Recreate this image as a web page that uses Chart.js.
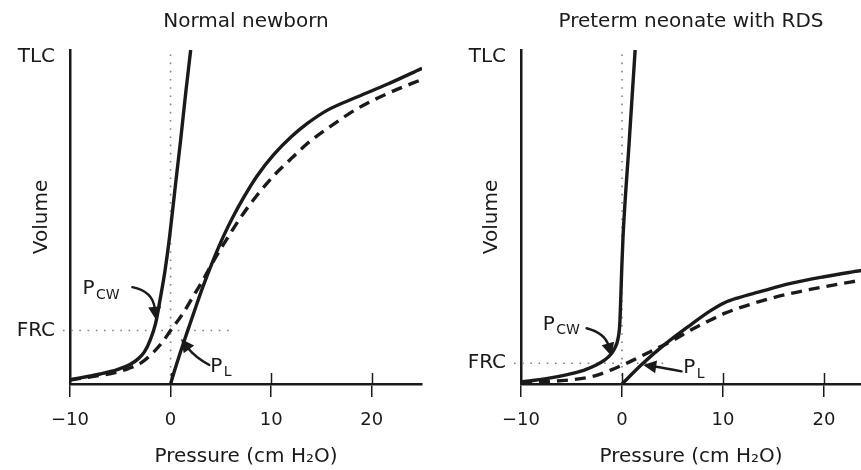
<!DOCTYPE html>
<html>
<head>
<meta charset="utf-8">
<script src="https://cdn.jsdelivr.net/npm/chart.js@4.4.1/dist/chart.umd.min.js"></script>
<style>
  html, body { margin: 0; padding: 0; background: #ffffff; }
  #wrap { position: relative; width: 861px; height: 470px; overflow: hidden; }
  #c1 { position: absolute; left: 0; top: 0; }
  #c2 { position: absolute; left: 430px; top: 0; }
</style>
</head>
<body>
<div id="wrap">
  <canvas id="c1" width="430" height="470"></canvas>
  <canvas id="c2" width="431" height="470"></canvas>
</div>
<script>
// ---------------- DATA ----------------
const panelTitles = ['Normal newborn', 'Preterm neonate with RDS'];
const pressureTicks = [-10, 0, 10, 20];
const volumeTickLabels = ['FRC', 'TLC'];
const xAxisTitle = 'Pressure (cm H\u2082O)';
const yAxisTitle = 'Volume';

// Normal newborn (pressure in cm H2O, volume in % of axis height)
const nbFRC = 16;
const nbTLC = 98;
const nbChestWallP = [-10, -7, -5.3, -4, -3.2, -2.6, -2.05, -1.5, -1.0, -0.55, -0.1, 0.5, 1.0, 1.5, 2.0];
const nbChestWallV = [1.3, 3.0, 4.3, 5.9, 7.6, 9.6, 13, 18, 26, 34, 44, 60, 73, 87, 100];
const nbTotalP = [-10, -7, -5.5, -4.2, -2.9, -1.7, -0.7, 0, 1.2, 2.2, 3.2, 4.2, 5.3, 7, 8.6, 10.3, 12, 13.6, 15.6, 18.6, 21.6, 25];
const nbTotalV = [1.2, 2.6, 3.4, 4.6, 6.4, 9.5, 13, 16, 21, 26, 31, 36.5, 42, 50, 56.5, 62.5, 67.5, 72, 76.5, 82.5, 87, 91.2];
const nbLungP = [0, 0.5, 1.2, 1.85, 2.5, 3.2, 3.9, 4.6, 5.3, 6.2, 7.2, 8.6, 10.3, 12, 13.6, 15.6, 18.6, 21.6, 25];
const nbLungV = [0, 5, 11.5, 17.3, 23, 29, 34.5, 39.7, 44.5, 50, 55.5, 62.3, 68.8, 74, 78, 82, 86, 89.8, 94.5];

// Preterm neonate with RDS
const rdsFRC = 6.2;
const rdsTLC = 98;
const rdsChestWallP = [-10, -7.5, -5.3, -3.8, -2.6, -1.7, -1.1, -0.7, -0.4, -0.22, -0.12, -0.02, 0.1, 0.7, 1.3];
const rdsChestWallV = [0.6, 1.6, 2.9, 4.1, 5.6, 7.2, 8.9, 10.8, 13.5, 18, 26, 35, 44, 72, 100];
const rdsTotalP = [-10, -6, -3, -1, 0, 1, 3, 5, 7, 9, 10.2, 13.5, 16.7, 20, 23.7];
const rdsTotalV = [0.4, 1.0, 2.2, 4.3, 5.6, 7.0, 10, 13, 16.5, 19.5, 21.2, 24.6, 27.1, 29.1, 31.1];
const rdsLungP = [0, 2, 4.3, 6.7, 8.7, 10.2, 11.5, 13.5, 16.7, 20, 23.7];
const rdsLungV = [0, 6, 12, 17.5, 21.8, 24.4, 25.8, 27.5, 30.1, 32.1, 34];

// ---------------- STYLE / LAYOUT ----------------
const FONT = "'DejaVu Sans', 'Liberation Sans', sans-serif";
const INK = '#1a1a1a';
const DOT = '#808080';

function pts(px, vy) { return px.map((p, i) => ({ x: p, y: vy[i] })); }

function curve(data, dashed) {
  return {
    data, borderColor: INK, borderWidth: 3.4, pointRadius: 0,
    cubicInterpolationMode: 'monotone', fill: false,
    borderDash: dashed ? [11, 7] : [], borderCapStyle: 'butt', borderJoinStyle: 'round'
  };
}
function refLine(data) {
  return {
    data, borderColor: DOT, borderWidth: 1.6, pointRadius: 0, tension: 0,
    borderDash: [1.6, 6.6], fill: false, clip: false
  };
}

function annotationPlugin(notes) {
  return {
    id: 'pvNotes',
    afterDatasetsDraw(chart) {
      const { ctx, chartArea, scales: { x, y } } = chart;
      ctx.save();
      // inner part of x tick marks
      ctx.strokeStyle = INK; ctx.lineWidth = 1.5;
      pressureTicks.forEach(v => {
        if (v <= x.min) return;
        const px = Math.round(x.getPixelForValue(v)) + 0.5;
        ctx.beginPath(); ctx.moveTo(px, chartArea.bottom); ctx.lineTo(px, chartArea.bottom - 11); ctx.stroke();
      });
      notes.forEach(n => {
        const P = a => [x.getPixelForValue(a[0]), y.getPixelForValue(a[1])];
        const [tx, ty] = P(n.tail), [cx, cy] = P(n.ctrl), [hx, hy] = P(n.tip);
        const ang = Math.atan2(hy - cy, hx - cx);
        const L = 13, W = 6.5;
        const bx = hx - L * Math.cos(ang), by = hy - L * Math.sin(ang);
        ctx.strokeStyle = INK; ctx.fillStyle = INK; ctx.lineWidth = 2.4; ctx.lineCap = 'round';
        ctx.beginPath(); ctx.moveTo(tx, ty); ctx.quadraticCurveTo(cx, cy, bx + 2 * Math.cos(ang), by + 2 * Math.sin(ang)); ctx.stroke();
        ctx.beginPath();
        ctx.moveTo(hx, hy);
        ctx.lineTo(bx + W * Math.sin(ang), by - W * Math.cos(ang));
        ctx.lineTo(bx - W * Math.sin(ang), by + W * Math.cos(ang));
        ctx.closePath(); ctx.fill();
        const [lx, ly] = P(n.at);
        ctx.textAlign = 'left'; ctx.textBaseline = 'alphabetic';
        ctx.font = '20px ' + FONT;
        ctx.fillText(n.main, lx, ly);
        ctx.font = '14px ' + FONT;
        ctx.fillText(n.sub, lx + 13.5, ly + 4.5);
      });
      ctx.restore();
    }
  };
}

function makePanel(id, cfg) {
  return new Chart(document.getElementById(id), {
    type: 'line',
    data: {
      datasets: [
        curve(pts(cfg.cwP, cfg.cwV), false),
        curve(pts(cfg.lungP, cfg.lungV), false),
        curve(pts(cfg.totP, cfg.totV), true),
        refLine([{ x: -10.7, y: cfg.frc }, { x: cfg.frcEnd, y: cfg.frc }]),
        refLine([{ x: 0, y: 0 }, { x: 0, y: 100 }])
      ]
    },
    options: {
      responsive: false, animation: false, devicePixelRatio: 1,
      layout: { padding: { left: 0, right: cfg.padRight, top: 0, bottom: 0 } },
      plugins: {
        legend: { display: false }, tooltip: { enabled: false },
        title: {
          display: true, text: cfg.title, fullSize: false, color: INK,
          font: { family: FONT, size: 20, weight: 'normal', lineHeight: 1.2 },
          padding: { top: 10, bottom: 16 }
        }
      },
      scales: {
        x: {
          type: 'linear', min: -10, max: cfg.xMax, position: 'bottom',
          afterFit: s => { s.height = 86; },
          afterBuildTicks: s => { s.ticks = pressureTicks.map(v => ({ value: v })); },
          ticks: {
            color: INK, font: { family: FONT, size: 18 }, padding: 13, maxRotation: 0, autoSkip: false,
            callback: v => (v < 0 ? '\u2212' + Math.abs(v) : String(v))
          },
          grid: { display: true, drawOnChartArea: false, drawTicks: true, tickLength: 13, color: INK, lineWidth: 1.5 },
          border: { display: true, color: INK, width: 2.5 },
          title: { display: true, text: xAxisTitle, color: INK, font: { family: FONT, size: 20, lineHeight: 1.2 }, padding: { top: 0, bottom: 1 } }
        },
        y: {
          type: 'linear', min: 0, max: 100, position: 'left',
          afterFit: s => { s.width = cfg.yWidth; },
          afterBuildTicks: s => { s.ticks = [{ value: cfg.frc }, { value: cfg.tlc }]; },
          ticks: {
            color: INK, font: { family: FONT, size: 20 }, padding: 15, autoSkip: false,
            callback: (v, i) => volumeTickLabels[i]
          },
          grid: { display: false, drawTicks: false },
          border: { display: true, color: INK, width: 2.5 },
          title: { display: true, text: yAxisTitle, color: INK, font: { family: FONT, size: 20, lineHeight: 1.2 }, padding: { top: cfg.yTitlePad, bottom: 0 } }
        }
      }
    },
    plugins: [annotationPlugin(cfg.notes)]
  });
}

makePanel('c1', {
  title: panelTitles[0], xMax: 25, padRight: 8, yWidth: 70, yTitlePad: 30,
  frc: nbFRC, tlc: nbTLC, frcEnd: 6.4,
  cwP: nbChestWallP, cwV: nbChestWallV, lungP: nbLungP, lungV: nbLungV, totP: nbTotalP, totV: nbTotalV,
  notes: [
    { main: 'P', sub: 'CW', at: [-8.75, 26.8], tail: [-3.8, 29.0], ctrl: [-1.75, 27.8], tip: [-1.45, 19.2] },
    { main: 'P', sub: 'L', at: [3.95, 3.6], tail: [3.85, 5.7], ctrl: [2.4, 8.1], tip: [1.05, 13.5] }
  ]
});

makePanel('c2', {
  title: panelTitles[1], xMax: 23.66, padRight: 0, yWidth: 91, yTitlePad: 50,
  frc: rdsFRC, tlc: rdsTLC, frcEnd: 4.3,
  cwP: rdsChestWallP, cwV: rdsChestWallV, lungP: rdsLungP, lungV: rdsLungV, totP: rdsTotalP, totV: rdsTotalV,
  notes: [
    { main: 'P', sub: 'CW', at: [-7.85, 16.2], tail: [-3.5, 16.7], ctrl: [-1.68, 15.2], tip: [-1.05, 8.4] },
    { main: 'P', sub: 'L', at: [6.07, 3.2], tail: [5.9, 3.8], ctrl: [4.16, 4.8], tip: [2.1, 5.7] }
  ]
});
</script>
</body>
</html>
